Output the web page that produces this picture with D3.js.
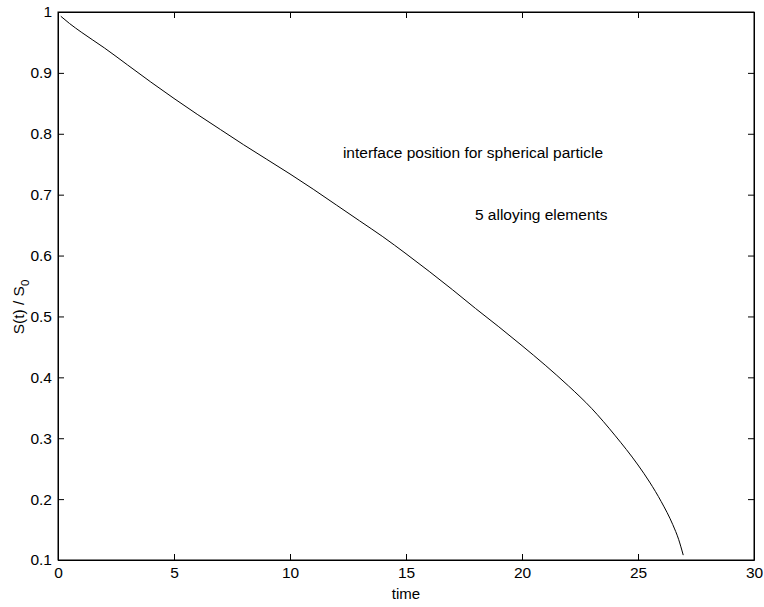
<!DOCTYPE html>
<html>
<head>
<meta charset="utf-8">
<script src="https://cdn.jsdelivr.net/npm/d3@7"></script>
<style>
body { margin: 0; background: white; }
svg text { font-family: "Liberation Sans", Arial, sans-serif; }
</style>
</head>
<body>
<script>
const width = 764
const height = 607
const margin = {top: 12, right: 10, bottom: 47, left: 58}

// values
const times = [0.12, 0.5, 1, 2, 3, 4, 5, 6, 7, 8, 9, 10, 11, 12, 13, 14, 15, 16, 17, 18, 19, 20, 21, 22, 23, 24, 25, 25.5, 26, 26.5, 26.75, 26.95]
const position = [0.993, 0.981, 0.967, 0.941, 0.913, 0.885, 0.858, 0.832, 0.807, 0.782, 0.758, 0.734, 0.709, 0.683, 0.657, 0.631, 0.603, 0.574, 0.544, 0.513, 0.483, 0.452, 0.420, 0.386, 0.349, 0.305, 0.256, 0.228, 0.196, 0.158, 0.134, 0.108]

const xTicks = [0, 5, 10, 15, 20, 25, 30]
const yTicks = [0.1, 0.2, 0.3, 0.4, 0.5, 0.6, 0.7, 0.8, 0.9, 1]

const notes = [
    {t: 12.28, v: 0.76, text: "interface position for spherical particle"},
    {t: 17.97, v: 0.658, text: "5 alloying elements"}
]

let svg = d3.select("body")
    .append("svg")
    .attr("width", width)
    .attr("height", height)

let x = d3.scaleLinear()
    .domain([0, 30])
    .range([margin.left, width - margin.right])

let y = d3.scaleLinear()
    .domain([0.1, 1])
    .range([height - margin.bottom, margin.top])

const tick = 6
const fmt = d => d3.format("")(d)

// bottom axis with labels
svg.append("g")
    .attr("transform", `translate(0,${y(0.1)})`)
    .call(d3.axisBottom(x).tickValues(xTicks).tickSizeInner(-tick).tickSizeOuter(0).tickPadding(7).tickFormat(fmt))
// top axis, ticks only
svg.append("g")
    .attr("transform", `translate(0,${y(1)})`)
    .call(d3.axisTop(x).tickValues(xTicks).tickSizeInner(-tick).tickSizeOuter(0).tickFormat(""))
// left axis with labels
svg.append("g")
    .attr("transform", `translate(${x(0)},0)`)
    .call(d3.axisLeft(y).tickValues(yTicks).tickSizeInner(-tick).tickSizeOuter(0).tickPadding(6).tickFormat(fmt))
// right axis, ticks only
svg.append("g")
    .attr("transform", `translate(${x(30)},0)`)
    .call(d3.axisRight(y).tickValues(yTicks).tickSizeInner(-tick).tickSizeOuter(0).tickFormat(""))

svg.selectAll(".tick text")
    .style("font-size", "15.5px")
    .style("fill", "black")
svg.selectAll(".domain, .tick line")
    .attr("stroke", "black")

// box
svg.append("rect")
    .attr("x", x(0))
    .attr("y", y(1))
    .attr("width", x(30) - x(0))
    .attr("height", y(0.1) - y(1))
    .attr("fill", "none")
    .attr("stroke", "black")
    .attr("stroke-width", 1)

let line = d3.line()
    .x((d, i) => x(times[i]))
    .y(d => y(d))
    .curve(d3.curveMonotoneX)

svg.append("path")
    .datum(position)
    .attr("d", line)
    .attr("fill", "none")
    .attr("stroke", "black")
    .attr("stroke-width", 1)

svg.selectAll(".note")
    .data(notes)
    .enter()
    .append("text")
    .attr("x", d => x(d.t))
    .attr("y", d => y(d.v))
    .style("font-size", "15.5px")
    .text(d => d.text)

svg.append("text")
    .attr("x", x(15))
    .attr("y", 599)
    .attr("text-anchor", "middle")
    .style("font-size", "15px")
    .text("time")

let ylab = svg.append("text")
    .attr("transform", `translate(24,307) rotate(-90)`)
    .attr("text-anchor", "middle")
    .style("font-size", "15.5px")
ylab.append("tspan").text("S(t) / S")
ylab.append("tspan").attr("dy", 5).style("font-size", "11.5px").text("0")
</script>
</body>
</html>
